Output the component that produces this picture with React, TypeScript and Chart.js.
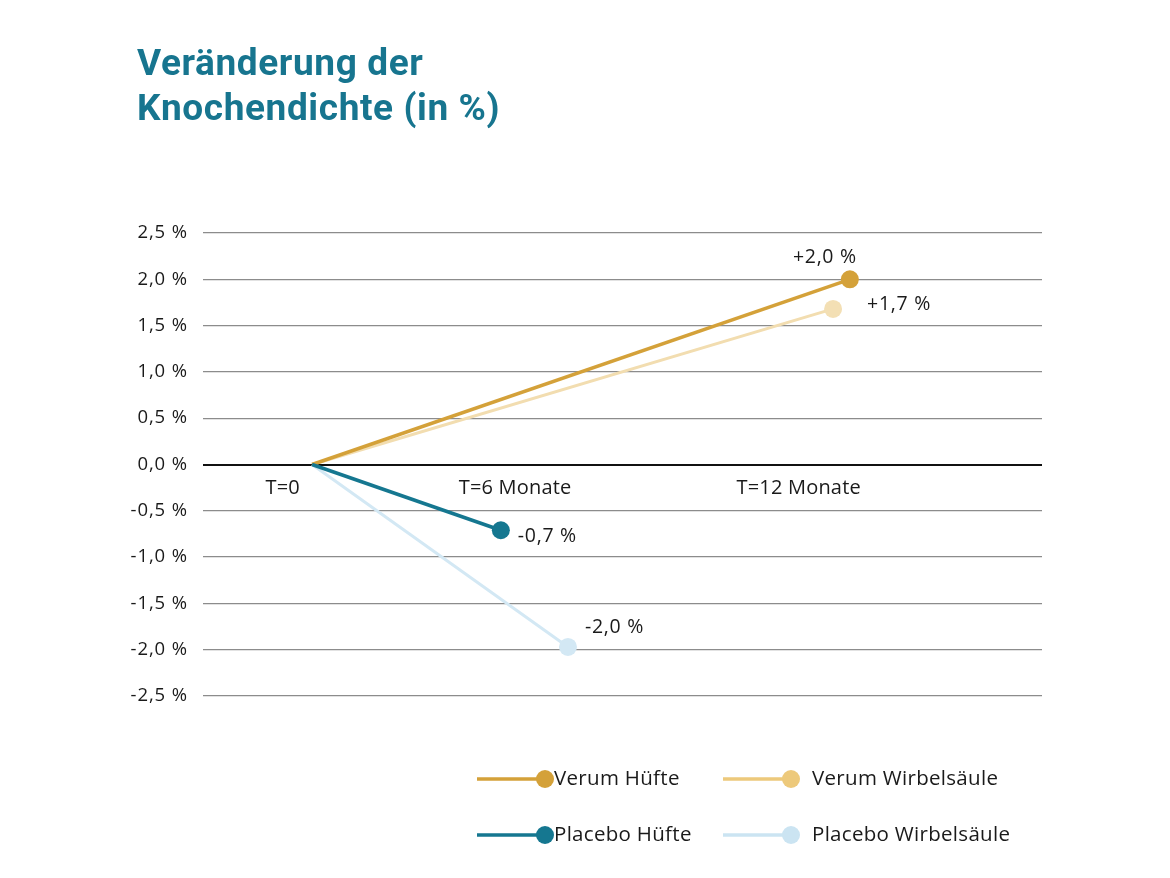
import React, { useEffect, useRef } from "react";
import { Chart, registerables } from "chart.js";

Chart.register(...registerables);

// ---- data ----
const titleLines = ["Veränderung der", "Knochendichte (in %)"];
const seriesNames = ["Verum Hüfte", "Verum Wirbelsäule", "Placebo Hüfte", "Placebo Wirbelsäule"];
// timeline positions (abstract horizontal units, 0..100)
const startX = 13.0;
const endX = [77.1, 75.1, 35.5, 43.5];
const startValues = [0, 0, 0, 0];
const endValues = [2.0, 1.68, -0.71, -1.97];
const valueLabels = ["+2,0 %", "+1,7 %", "-0,7 %", "-2,0 %"];
const timeLabels = ["T=0", "T=6 Monate", "T=12 Monate"];
const timeLabelX = [9.5, 37.2, 71.0];
const yTicks = [2.5, 2.0, 1.5, 1.0, 0.5, 0.0, -0.5, -1.0, -1.5, -2.0, -2.5];

// ---- styles ----
const lineColors = ["#D4A139", "#F2DDB0", "#157790", "#D3E8F4"];
const pointColors = ["#D4A139", "#F3DFB4", "#157790", "#D3E8F4"];
const legendColors = ["#D4A139", "#EDC97B", "#157790", "#CBE4F2"];
const lineWidths = [3.5, 3, 3.5, 3];
const labelOffsets = [
  { dx: -25, dy: -22, align: "center" },
  { dx: 34, dy: -4, align: "left" },
  { dx: 17, dy: 6, align: "left" },
  { dx: 17, dy: -19, align: "left" },
];
const FONT = "'Open Sans', 'DejaVu Sans', sans-serif";
const TFONT = "Roboto, 'DejaVu Sans', sans-serif";

const fmt = (v: number) => v.toFixed(1).replace(".", ",") + " %";

const overlay = {
  id: "overlay",
  beforeDraw(chart: any) {
    chart.ctx.letterSpacing = "0.9px";
  },
  afterDatasetsDraw(chart: any) {
    const { ctx, scales } = chart;
    const xs = scales.x;
    const ys = scales.y;
    ctx.save();
    // value labels
    ctx.letterSpacing = "0.7px";
    ctx.fillStyle = "#1a1a1a";
    ctx.font = `19.5px ${FONT}`;
    ctx.textBaseline = "middle";
    valueLabels.forEach((t, i) => {
      const px = xs.getPixelForValue(endX[i]);
      const py = ys.getPixelForValue(endValues[i]);
      const o = labelOffsets[i];
      ctx.textAlign = o.align;
      ctx.fillText(t, px + o.dx, py + o.dy);
    });
    // time labels
    ctx.letterSpacing = "0.2px";
    ctx.font = `20px ${FONT}`;
    ctx.textAlign = "center";
    const y0 = ys.getPixelForValue(0);
    timeLabels.forEach((t, i) => {
      ctx.fillText(t, xs.getPixelForValue(timeLabelX[i]), y0 + 24);
    });
    ctx.restore();
  },
  afterDraw(chart: any) {
    const { ctx } = chart;
    ctx.save();
    // title
    ctx.letterSpacing = "0.6px";
    ctx.fillStyle = "#17758F";
    ctx.font = `bold 37px ${TFONT}`;
    ctx.textAlign = "left";
    ctx.textBaseline = "alphabetic";
    ctx.fillText(titleLines[0], 137, 75);
    ctx.fillText(titleLines[1], 137, 120);
    // legend
    ctx.letterSpacing = "0.3px";
    const cols = [477, 723];
    const rows = [779, 835];
    ctx.font = `20.5px ${FONT}`;
    ctx.textBaseline = "middle";
    seriesNames.forEach((name, i) => {
      const cx = cols[i % 2];
      const cy = rows[Math.floor(i / 2)];
      ctx.strokeStyle = legendColors[i];
      ctx.lineWidth = 3.5;
      ctx.beginPath();
      ctx.moveTo(cx, cy);
      ctx.lineTo(cx + 66, cy);
      ctx.stroke();
      ctx.fillStyle = legendColors[i];
      ctx.beginPath();
      ctx.arc(cx + 68, cy, 9, 0, Math.PI * 2);
      ctx.fill();
      ctx.fillStyle = "#1a1a1a";
      ctx.textAlign = "left";
      ctx.fillText(name, cx + (i % 2 === 0 ? 77 : 89), cy);
    });
    ctx.restore();
  },
};

export default function App() {
  const ref = useRef<HTMLCanvasElement>(null);
  useEffect(() => {
    document.body.style.margin = "0";
    const datasets = seriesNames.map((name, i) => ({
      label: name,
      data: [
        { x: startX, y: startValues[i] },
        { x: endX[i], y: endValues[i] },
      ],
      borderColor: lineColors[i],
      borderWidth: lineWidths[i],
      backgroundColor: pointColors[i],
      pointBackgroundColor: pointColors[i],
      pointBorderWidth: 0,
      pointRadius: [0, 9],
      pointHoverRadius: [0, 9],
      clip: false as any,
      order: [1, 2, 0, 3][i],
    }));
    const chart = new Chart(ref.current!, {
      type: "line",
      data: { datasets },
      plugins: [overlay],
      options: {
        animation: false,
        responsive: false,
        devicePixelRatio: 1,
        layout: { padding: { top: 233, bottom: 182, left: 0, right: 128 } },
        plugins: { legend: { display: false }, tooltip: { enabled: false }, title: { display: false } },
        scales: {
          x: { type: "linear", min: 0, max: 100, display: false },
          y: {
            min: -2.5,
            max: 2.5,
            afterFit: (axis: any) => {
              axis.width = 203;
            },
            afterBuildTicks: (axis: any) => {
              axis.ticks = yTicks.map((v) => ({ value: v }));
            },
            border: { display: false },
            grid: {
              drawTicks: false,
              color: (c: any) => (c.tick && c.tick.value === 0 ? "#111111" : "#8c8c8c"),
              lineWidth: (c: any) => (c.tick && c.tick.value === 0 ? 2 : 1.3),
            },
            ticks: {
              padding: 15,
              color: "#1a1a1a",
              font: { family: FONT, size: 18.5 },
              callback: (v: any) => fmt(Number(v)),
            },
          },
        },
      },
    });
    return () => chart.destroy();
  }, []);
  return <canvas ref={ref} width={1170} height={878} style={{ display: "block" }} />;
}
